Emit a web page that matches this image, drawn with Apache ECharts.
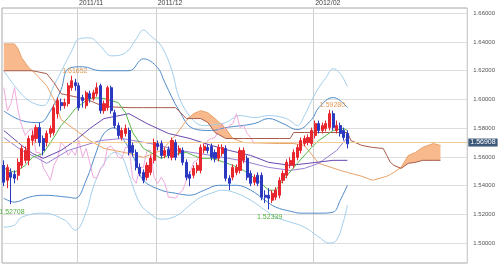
<!DOCTYPE html>
<html><head><meta charset="utf-8">
<script src="https://cdn.jsdelivr.net/npm/echarts@6/dist/echarts.min.js"></script>
<style>html,body{margin:0;padding:0;background:#fff}#c{width:498px;height:266px}</style>
</head><body><div id="c"></div>
<script>
// ---- categories / ticks ----
const NCAT = 130;
const monthIdx = [21, 43, 87];
const monthLabels = ['2011/11', '2011/12', '2012/02'];
const yTicks = [1.50, 1.52, 1.54, 1.56, 1.58, 1.60, 1.62, 1.64, 1.66];
const yMin = 1.4861, yMax = 1.6637;

// ---- candles [open, close, low, high] ----
const candles = [
[1.5541,1.5424,1.5396,1.5576],[1.5437,1.5527,1.5382,1.5548],[1.5492,1.5458,1.52708,1.5520],[1.5478,1.5451,1.5416,1.5506],
[1.5472,1.5562,1.5437,1.5590],[1.5541,1.5659,1.5520,1.5680],[1.5576,1.5645,1.5555,1.5673],[1.5576,1.5728,1.5541,1.5749],
[1.5714,1.5749,1.5680,1.5784],[1.5728,1.5804,1.5700,1.5825],[1.5804,1.5700,1.5673,1.5839],[1.5728,1.5645,1.5610,1.5749],
[1.5700,1.5763,1.5673,1.5784],[1.5763,1.5797,1.5735,1.5818],[1.5770,1.5943,1.5749,1.5964],[1.5901,1.5992,1.5867,1.6013],
[1.5978,1.5957,1.5922,1.6006],[1.5957,1.5978,1.5936,1.6006],[1.5971,1.6096,1.5950,1.6117],[1.6082,1.6130,1.6061,1.61652],
[1.6117,1.6096,1.6061,1.6144],[1.6096,1.5943,1.5922,1.6117],[1.6013,1.5992,1.5943,1.6033],[1.5957,1.6047,1.5936,1.6061],
[1.6040,1.6006,1.5978,1.6061],[1.6006,1.6047,1.5992,1.6068],[1.6040,1.6082,1.6020,1.6117],[1.6096,1.5922,1.5901,1.6110],
[1.5922,1.5971,1.5901,1.5992],[1.5943,1.6082,1.5922,1.6096],[1.6082,1.5922,1.5901,1.6096],[1.5908,1.5818,1.5797,1.5929],
[1.5818,1.5749,1.5728,1.5839],[1.5735,1.5784,1.5714,1.5804],[1.5763,1.5797,1.5742,1.5825],[1.5784,1.5631,1.5610,1.5804],
[1.5680,1.5631,1.5603,1.5700],[1.5631,1.5527,1.5506,1.5652],[1.5527,1.5485,1.5465,1.5555],[1.5492,1.5437,1.5416,1.5513],
[1.5458,1.5541,1.5437,1.5562],[1.5492,1.5590,1.5472,1.5610],[1.5576,1.5700,1.5555,1.5728],[1.5693,1.5673,1.5645,1.5714],
[1.5693,1.5610,1.5590,1.5714],[1.5610,1.5645,1.5590,1.5666],[1.5652,1.5610,1.5590,1.5673],[1.5597,1.5714,1.5576,1.5735],
[1.5700,1.5597,1.5576,1.5721],[1.5631,1.5659,1.5610,1.5680],[1.5645,1.5562,1.5541,1.5666],[1.5562,1.5458,1.5437,1.5583],
[1.5478,1.5451,1.5396,1.5499],[1.5472,1.5520,1.5451,1.5541],[1.5506,1.5541,1.5485,1.5562],[1.5506,1.5666,1.5485,1.5687],
[1.5645,1.5673,1.5624,1.5693],[1.5666,1.5645,1.5624,1.5687],[1.5673,1.5597,1.5576,1.5693],[1.5631,1.5590,1.5562,1.5652],
[1.5590,1.5666,1.5569,1.5687],[1.5624,1.5666,1.5603,1.5687],[1.5659,1.5451,1.5430,1.5680],[1.5451,1.5416,1.5368,1.5472],
[1.5458,1.5527,1.5437,1.5548],[1.5492,1.5527,1.5472,1.5548],[1.5506,1.5645,1.5485,1.5666],[1.5576,1.5645,1.5555,1.5666],
[1.5590,1.5458,1.5437,1.5610],[1.5485,1.5416,1.5396,1.5506],[1.5424,1.5458,1.5402,1.5478],[1.5472,1.5416,1.5396,1.5492],
[1.5472,1.5319,1.5298,1.5492],[1.5333,1.5319,1.5278,1.5368],[1.5333,1.5312,1.52339,1.5382],[1.5298,1.5347,1.5278,1.5368],
[1.5319,1.5368,1.5298,1.5389],[1.5333,1.5437,1.5312,1.5458],[1.5437,1.5485,1.5416,1.5506],[1.5472,1.5562,1.5451,1.5583],
[1.5541,1.5576,1.5520,1.5597],[1.5541,1.5631,1.5520,1.5652],[1.5597,1.5666,1.5576,1.5687],[1.5645,1.5714,1.5624,1.5735],
[1.5693,1.5728,1.5673,1.5749],[1.5700,1.5735,1.5680,1.5756],[1.5693,1.5784,1.5673,1.5804],[1.5749,1.5832,1.5728,1.5853],
[1.5832,1.5784,1.5763,1.5853],[1.5784,1.5818,1.5763,1.5839],[1.5797,1.5832,1.5777,1.5853],[1.5804,1.5901,1.5784,1.59280],
[1.5901,1.5804,1.5784,1.5922],[1.5784,1.5818,1.5763,1.5853],[1.5818,1.5763,1.5742,1.5839],[1.5784,1.5735,1.5714,1.5804],
[1.5763,1.56908,1.5659,1.5784]
];
const lastPrice = 1.56908;
const highMarks = [[19, 1.61652], [91, 1.59280]];
const lowMarks = [[2, 1.52708], [74, 1.52339]];
const chikouShift = 26;

// ---- indicator lines [category index, price] ----
const bbUpper2 = [[0,1.6200],[3,1.6096],[7,1.5992],[11,1.5957],[14,1.6096],[19,1.6339],[21,1.6422],[24,1.6429],[27,1.6373],[30,1.6304],[34,1.6325],[37,1.6422],[39,1.6484],[41,1.6443],[44,1.6373],[47,1.6200],[49,1.6013],[53,1.5853],[56,1.5818],[59,1.5825],[62,1.5839],[66,1.5888],[70,1.5874],[74,1.5888],[78,1.5874],[80,1.5853],[82,1.5818],[84,1.5888],[86,1.5992],[88,1.6082],[90,1.6151],[92,1.6214],[94,1.6179],[96,1.6090]];
const bbUpper1 = [[0,1.5920],[5,1.5853],[10,1.5839],[13,1.5920],[16,1.6068],[18,1.6214],[22,1.6228],[27,1.6200],[35,1.6200],[39,1.6283],[43,1.6221],[45,1.6117],[49,1.5922],[53,1.5797],[58,1.5784],[62,1.5804],[70,1.5832],[74,1.5867],[78,1.5832],[82,1.5790],[86,1.5860],[88,1.5943],[92,1.6013],[94,1.5992],[96,1.5943]];
const bbLower1 = [[0,1.5312],[3,1.5285],[7,1.5319],[11,1.5333],[18,1.5319],[20,1.5312],[23,1.5437],[26,1.5645],[28,1.5763],[31,1.5804],[32,1.5770],[35,1.5659],[37,1.5555],[39,1.5437],[44,1.5368],[48,1.5347],[52,1.5333],[56,1.5368],[60,1.5402],[65,1.5402],[69,1.5368],[73,1.5298],[76,1.5250],[80,1.5222],[83,1.5208],[88,1.5208],[92,1.5215],[94,1.5298],[96,1.5402]];
const bbLower2 = [[0,1.5111],[3,1.5125],[5,1.5180],[11,1.5208],[17,1.5160],[20,1.5090],[23,1.5215],[25,1.5389],[28,1.5555],[31,1.5631],[33,1.5603],[35,1.5472],[38,1.5278],[41,1.5201],[44,1.5166],[48,1.5187],[52,1.5264],[55,1.5319],[58,1.5347],[61,1.5368],[65,1.5347],[69,1.5298],[73,1.5229],[76,1.5180],[80,1.5146],[84,1.5111],[88,1.5042],[91,1.5000],[93,1.5021],[95,1.5160],[96,1.5264]];
const tenkan = [[0,1.5520],[3,1.5492],[6,1.5541],[8,1.5597],[11,1.5624],[14,1.5735],[16,1.5818],[18,1.5874],[20,1.5936],[23,1.5992],[25,1.6013],[28,1.6006],[32,1.5978],[34,1.5908],[36,1.5770],[39,1.5659],[41,1.5631],[44,1.5590],[46,1.5610],[51,1.5631],[55,1.5590],[58,1.5590],[60,1.5576],[64,1.5541],[67,1.5506],[71,1.5437],[74,1.5368],[76,1.5368],[78,1.5437],[82,1.5555],[86,1.5666],[88,1.5714],[92,1.5784],[95,1.5797],[96,1.5784]];
const purpleA = [[0,1.5784],[5,1.5680],[8,1.5624],[11,1.5590],[16,1.5645],[20,1.5714],[24,1.5797],[28,1.5867],[35,1.5901],[40,1.5832],[46,1.5763],[52,1.5728],[58,1.5680],[63,1.5645],[69,1.5610],[74,1.5562],[80,1.5541],[85,1.5555],[92,1.5576],[96,1.5576]];
const purpleB = [[0,1.5735],[5,1.5645],[9,1.5597],[12,1.5555],[18,1.5645],[27,1.5714],[33,1.5728],[41,1.5693],[49,1.5645],[58,1.5610],[66,1.5576],[74,1.5527],[80,1.5506],[84,1.5520],[88,1.5555],[93,1.5645],[96,1.5735]];
const spanIdx = [0,3,4,5,7,8,12,14,16,21,24,28,35,39,44,48,51,53,55,57,59,62,64,67,77,80,81,84,88,94,96,97,100,103,106,107,108,109,111,113,115,117,120,122];
const spanA = [1.6387,1.6387,1.6352,1.6290,1.6221,1.6200,1.6096,1.6000,1.5860,1.5770,1.5714,1.5659,1.5624,1.5597,1.5645,1.5749,1.5853,1.5901,1.5922,1.5908,1.5867,1.5797,1.5728,1.5700,1.5693,1.5693,1.5693,1.5680,1.5555,1.5506,1.5492,1.5485,1.5465,1.5437,1.5458,1.5465,1.5478,1.5492,1.5527,1.5610,1.5631,1.5666,1.5693,1.5680];
const spanB = [1.6200,1.6200,1.6200,1.6200,1.6200,1.6200,1.6180,1.6117,1.6040,1.6013,1.5992,1.5950,1.5943,1.5943,1.5943,1.5943,1.5867,1.5867,1.5867,1.5840,1.5770,1.5728,1.5728,1.5728,1.5728,1.5728,1.5770,1.5770,1.5770,1.5770,1.5770,1.5714,1.5680,1.5666,1.5659,1.5610,1.5562,1.5541,1.5520,1.5555,1.5562,1.5576,1.5576,1.5576];

// ---- build ----
const cats = Array.from({length: NCAT}, (_, i) => String(i));
const chikou = candles.slice(chikouShift).map((c, j) => [j, c[1]]);
const spanBData = spanIdx.map((x, k) => [x, spanB[k]]);
const spanAData = spanIdx.map((x, k) => [x, spanA[k]]);
const kumoFill = spanIdx.map((x, k) => [x, Math.max(spanA[k] - spanB[k], 0)]);
const FONT = 'Liberation Sans, Arial, sans-serif';

function ln(name, data, color, z, smooth) {
  return {name, type: 'line', data, symbol: 'none', smooth: smooth || false, z: z || 3,
    lineStyle: {width: 1, color}, silent: true};
}

const chart = echarts.init(document.getElementById('c'), null, {renderer: 'canvas'});
chart.setOption({
  animation: false,
  backgroundColor: '#fff',
  textStyle: {fontFamily: FONT},
  grid: {left: 2, right: 30, top: 7, bottom: 3, show: true, borderColor: '#a8a8a8', borderWidth: 1, backgroundColor: 'transparent'},
  xAxis: {
    type: 'category', data: cats, position: 'top', boundaryGap: true,
    axisLine: {show: false}, axisTick: {show: false},
    axisLabel: {
      interval: (i) => monthIdx.includes(i),
      formatter: (v, i) => { const k = monthIdx.indexOf(Number(v)); return k >= 0 ? monthLabels[k] : ''; },
      color: '#444', fontSize: 7, margin: 1, align: 'left', fontFamily: FONT
    },
    splitLine: {show: true, interval: (i) => monthIdx.includes(i), lineStyle: {color: '#cfcfcf', width: 1}}
  },
  yAxis: {
    type: 'value', position: 'right', min: yMin, max: yMax, scale: true,
    axisLine: {show: false},
    axisTick: {show: false, customValues: yTicks},
    axisLabel: {customValues: yTicks, formatter: (v) => v.toFixed(5), color: '#555', fontSize: 6, margin: 6, fontFamily: FONT},
    splitLine: {show: true, lineStyle: {color: '#dedede', width: 1}}
  },
  series: [
    {name: 'kumoBase', type: 'line', data: spanBData, stack: 'kumo', symbol: 'none', lineStyle: {opacity: 0}, z: 1, silent: true},
    {name: 'kumoFill', type: 'line', data: kumoFill, stack: 'kumo', symbol: 'none', lineStyle: {opacity: 0},
      areaStyle: {color: '#f8b98c', opacity: 1}, z: 1, silent: true},
    ln('bbU2', bbUpper2, '#a3cfec', 2, 0.4),
    ln('bbL2', bbLower2, '#a3cfec', 2, 0.4),
    ln('bbU1', bbUpper1, '#4f8cc9', 2, 0.4),
    ln('bbL1', bbLower1, '#4f8cc9', 2, 0.4),
    ln('chikou', chikou, '#efaadd', 2),
    ln('spanA', spanAData, '#e8a26a', 3),
    ln('spanB', spanBData, '#a95b4b', 3),
    ln('purpleB', purpleB, '#9a80d6', 3),
    ln('purpleA', purpleA, '#6a48b0', 3),
    ln('tenkan', tenkan, '#58b847', 3),
    {
      name: 'price', type: 'candlestick', data: candles, barWidth: '72%', z: 5,
      itemStyle: {color: '#e8262e', color0: '#2b38c0', borderColor: '#e8262e', borderColor0: '#2b38c0', borderWidth: 1},
      markLine: {
        silent: true, symbol: ['none', 'none'], animation: false,
        lineStyle: {color: '#f3cc95', width: 1, type: 'solid'},
        label: {show: true, position: 'end', distance: 1, formatter: () => lastPrice.toFixed(5),
          backgroundColor: '#3d5a78', color: '#fff', fontSize: 7, padding: [1, 2, 0, 2], fontFamily: FONT},
        data: [{yAxis: lastPrice}]
      },
      markPoint: {
        silent: true, symbol: 'circle', symbolSize: 1, itemStyle: {color: 'rgba(0,0,0,0)'},
        data: highMarks.map(m => ({coord: m, value: m[1].toFixed(5),
            label: {show: true, position: 'top', distance: 1, offset: [3, 0], color: '#e39a55', fontSize: 7, fontFamily: FONT, formatter: (p) => p.value}}))
          .concat(lowMarks.map(m => ({coord: m, value: m[1].toFixed(5),
            label: {show: true, position: 'bottom', distance: 4, offset: [1, 0], color: '#55b040', fontSize: 7, fontFamily: FONT, formatter: (p) => p.value}})))
      }
    }
  ]
});
</script>
</body></html>
